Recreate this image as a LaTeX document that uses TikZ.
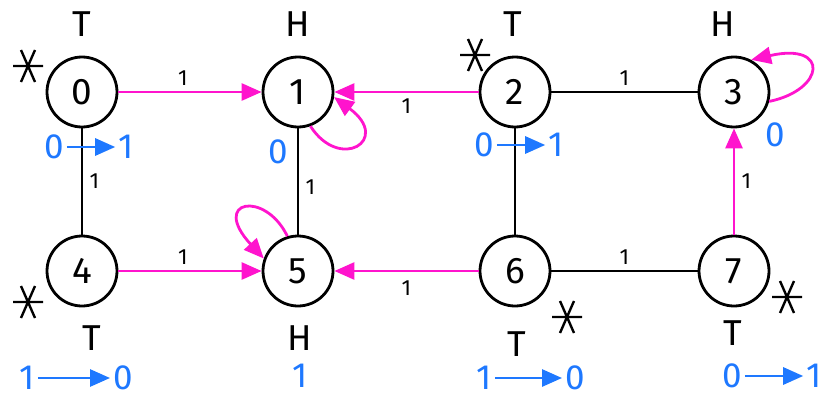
\documentclass[tikz,border=0pt]{standalone}
\usepackage{fontspec}
\setmainfont{Fira Sans}
\usetikzlibrary{arrows.meta}
\definecolor{pinkish}{RGB}{255,20,205}
\definecolor{blueish}{RGB}{30,120,255}

\begin{document}
\begin{tikzpicture}[x=1pt,y=-1pt,
	vtx/.style={circle,draw,line width=2.8pt,minimum size=70pt,inner sep=0pt,font=\fontsize{37}{40}\selectfont},
	lbl/.style={font=\fontsize{36}{40}\selectfont},
	wt/.style={font=\fontsize{22}{26}\selectfont},
	blk/.style={line width=2.8pt},
	mag/.style={line width=2.8pt,draw=pinkish,-{Triangle[length=20pt,width=17pt]}},
	bv/.style={font=\fontsize{35}{38}\selectfont,text=blueish,inner sep=3pt},
	bar/.style={line width=2.8pt,draw=blueish,-{Triangle[length=20pt,width=17pt]}},
	pics/aster/.style={code={\draw[line width=2.4pt] (-15,0)--(15,0) (-7,-16)--(7,16) (7,-16)--(-7,16);}}]
	
	\useasboundingbox (0,0) rectangle (826,404);
	
	% Vertices
	\node[vtx] (v0) at (82,92) {0};
	\node[vtx] (v1) at (298,92) {1};
	\node[vtx] (v2) at (515,92) {2};
	\node[vtx] (v3) at (734,92) {3};
	\node[vtx] (v4) at (82,271) {4};
	\node[vtx] (v5) at (298,271) {5};
	\node[vtx] (v6) at (515,271) {6};
	\node[vtx] (v7) at (734,271) {7};
	
	% T / H marks
	\node[lbl] (s0) at (82,24) {T};
	\node[lbl] (s1) at (298,24) {H};
	\node[lbl] (s2) at (513,24) {T};
	\node[lbl] (s3) at (723,24) {H};
	\node[lbl] (s4) at (92,338) {T};
	\node[lbl] (s5) at (300,338) {H};
	\node[lbl] (s6) at (517,344) {T};
	\node[lbl] (s7) at (733,333) {T};
	
	% Stars
	\pic at (28,66) {aster};
	\pic at (475,55) {aster};
	\pic at (28,302) {aster};
	\pic at (567,317) {aster};
	\pic at (787,297) {aster};
	
	% Black edges
	\draw[blk] (v0) -- node[wt,right=3pt]{1} (v4);
	\draw[blk] (v1) -- node[wt,right=3pt,pos=0.55]{1} (v5);
	\draw[blk] (v2) -- (v6);
	\draw[blk] (v2) -- node[wt,above=2pt]{1} (v3);
	\draw[blk] (v6) -- node[wt,above=2pt]{1} (v7);
	
	% Magenta edges
	\draw[mag] (v0) -- node[wt,above=2pt,pos=0.45]{1} (v1);
	\draw[mag] (v2) -- node[wt,below=2pt]{1} (v1);
	\draw[mag] (v4) -- node[wt,above=2pt,pos=0.45]{1} (v5);
	\draw[mag] (v6) -- node[wt,below=5pt]{1} (v5);
	\draw[mag] (v7) -- node[wt,right=3pt]{1} (v3);
	
	% Loops
	\draw[mag] (v1.-70) .. controls (340,172) and (392,140) .. (v1.-8);
	\draw[mag] (v5.107) .. controls (265,190) and (210,200) .. (v5.160);
	\draw[mag] (v3.-15) .. controls (825,90) and (830,42) .. (v3.62);
	
	% Blue values
	\node[bv] (b0a) at (54,147) {0};
	\node[bv] (b0b) at (126,147) {1};
	\draw[bar] (b0a) -- (b0b);
	\node[bv] (b1) at (278,152) {0};
	\node[bv] (b2a) at (484,145) {0};
	\node[bv] (b2b) at (556,145) {1};
	\draw[bar] (b2a) -- (b2b);
	\node[bv] (b3) at (775,135) {0};
	\node[bv] (b4a) at (27,378) {1};
	\node[bv] (b4b) at (123,378) {0};
	\draw[bar] (b4a) -- (b4b);
	\node[bv] (b5) at (300,376) {1};
	\node[bv] (b6a) at (484,378) {1};
	\node[bv] (b6b) at (575,378) {0};
	\draw[bar] (b6a) -- (b6b);
	\node[bv] (b7a) at (732,376) {0};
	\node[bv] (b7b) at (814,376) {1};
	\draw[bar] (b7a) -- (b7b);
	
\end{tikzpicture}
\end{document}
